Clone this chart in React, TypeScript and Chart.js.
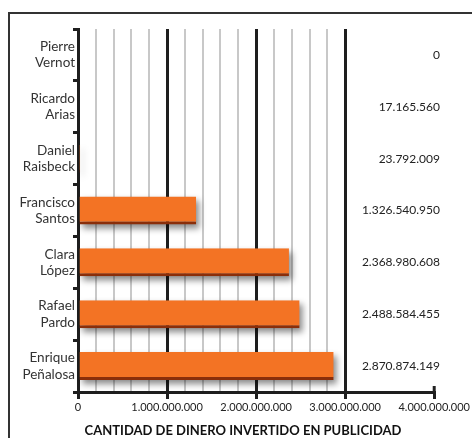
import React, { useEffect, useRef } from "react";
import { Chart, registerables } from "chart.js";

Chart.register(...registerables);

const categories: string[][] = [
  ["Pierre", "Vernot"],
  ["Ricardo", "Arias"],
  ["Daniel", "Raisbeck"],
  ["Francisco", "Santos"],
  ["Clara", "López"],
  ["Rafael", "Pardo"],
  ["Enrique", "Peñalosa"],
];
const investment: number[] = [0, 17165560, 23792009, 1326540950, 2368980608, 2488584455, 2870874149];
const xTickValues: number[] = [0, 1000000000, 2000000000, 3000000000, 4000000000];
const axisTitle = "CANTIDAD DE DINERO INVERTIDO EN PUBLICIDAD";

const fmt = (v: number) => String(Math.round(v)).replace(/\B(?=(\d{3})+(?!\d))/g, ".");
const FONT = "Lato, 'Open Sans', sans-serif";

export default function App() {
  const ref = useRef<HTMLCanvasElement>(null);
  useEffect(() => {
    if (!ref.current) return;
    const isMajor = (v: number) => xTickValues.includes(v);
    const framePlugin = {
      id: "frame",
      beforeDraw(chart: any) {
        const c = chart.ctx;
        c.save();
        c.fillStyle = "#fff";
        c.fillRect(0, 0, chart.width, chart.height);
        c.strokeStyle = "#333";
        c.lineWidth = 2;
        c.beginPath();
        c.moveTo(9, chart.height);
        c.lineTo(9, 13);
        c.lineTo(chart.width, 13);
        c.stroke();
        c.restore();
      },
    };
    const shadowPlugin = {
      id: "shadow",
      beforeDatasetsDraw(chart: any) {
        const c = chart.ctx;
        const meta = chart.getDatasetMeta(0);
        c.save();
        c.filter = "blur(3px)";
        c.fillStyle = "rgba(0,0,0,0.45)";
        meta.data.forEach((el: any) => {
          const p = el.getProps(["x", "y", "base", "height"], true);
          const w = p.x - p.base;
          if (w <= 0) return;
          c.fillRect(p.base + 3, p.y - p.height / 2 + 4, w, p.height);
        });
        c.restore();
      },
    };
    const labelPlugin = {
      id: "valueLabels",
      afterDraw(chart: any) {
        const c = chart.ctx;
        const ys = chart.scales.y;
        const xs = chart.scales.x;
        c.save();
        c.font = `12px ${FONT}`;
        c.fillStyle = "#222";
        c.textAlign = "right";
        c.textBaseline = "middle";
        investment.forEach((v, i) => {
          c.fillText(fmt(v), 440, ys.getPixelForValue(i));
        });
        const x4 = xs.getPixelForValue(xTickValues[xTickValues.length - 1]);
        c.strokeStyle = "#222";
        c.lineWidth = 3;
        c.beginPath();
        c.moveTo(x4, xs.top - 6);
        c.lineTo(x4, xs.top);
        c.stroke();
        c.font = `bold 13px ${FONT}`;
        c.fillStyle = "#111";
        c.textAlign = "center";
        c.fillText(axisTitle, 243, 431);
        c.restore();
      },
    };
    const chart = new Chart(ref.current, {
      type: "bar",
      data: {
        labels: categories,
        datasets: [
          {
            data: investment,
            backgroundColor: "#F37324",
            borderColor: "#8a2e0a",
            borderWidth: { top: 0, right: 0, bottom: 3, left: 0 },
            borderSkipped: "start",
            barPercentage: 0.54,
            categoryPercentage: 1,
          },
        ],
      },
      options: {
        indexAxis: "y",
        responsive: false,
        animation: false,
        layout: { padding: { top: 29, right: 37, bottom: 0, left: 0 } },
        plugins: { legend: { display: false }, tooltip: { enabled: false }, title: { display: false } },
        scales: {
          x: {
            min: 0,
            max: 4000000000,
            afterFit(scale: any) {
              scale.height = 46;
            },
            afterBuildTicks(scale: any) {
              const t: any[] = [];
              for (let v = 0; v <= 4000000000; v += 200000000) t.push({ value: v });
              scale.ticks = t;
            },
            ticks: {
              autoSkip: false,
              maxRotation: 0,
              padding: 2,
              color: "#222",
              font: { family: FONT, size: 11 },
              callback: (v: any) => (isMajor(Number(v)) ? fmt(Number(v)) : ""),
            },
            grid: {
              color: (ctx: any) => {
                const v = ctx.tick ? ctx.tick.value : 0;
                if (isMajor(v)) return v >= 4000000000 ? "rgba(0,0,0,0)" : "#1e1e1e";
                return v < 3000000000 ? "#c8c8c8" : "rgba(0,0,0,0)";
              },
              lineWidth: (ctx: any) => {
                const v = ctx.tick ? ctx.tick.value : 0;
                return isMajor(v) ? 3 : 2;
              },
              tickColor: (ctx: any) => {
                const v = ctx.tick ? ctx.tick.value : 0;
                return isMajor(v) ? "#1e1e1e" : "rgba(0,0,0,0)";
              },
              tickWidth: 3,
              tickLength: 7,
            },
            border: { color: "#1e1e1e", width: 3 },
          },
          y: {
            afterFit(scale: any) {
              scale.width = 78;
            },
            ticks: {
              padding: -2,
              color: "#333",
              font: { family: FONT, size: 13.5, lineHeight: 1.2 },
            },
            grid: {
              drawOnChartArea: false,
              offset: true,
              color: "#1e1e1e",
              lineWidth: 3,
              tickLength: 5,
            },
            border: { color: "#1e1e1e", width: 3 },
          },
        },
      },
      plugins: [framePlugin, shadowPlugin, labelPlugin],
    } as any);
    return () => chart.destroy();
  }, []);
  return (
    <div style={{ position: "fixed", left: 0, top: 0, width: 472, height: 438, background: "#fff" }}>
      <canvas ref={ref} width={472} height={438} style={{ width: 472, height: 438, display: "block" }} />
    </div>
  );
}
